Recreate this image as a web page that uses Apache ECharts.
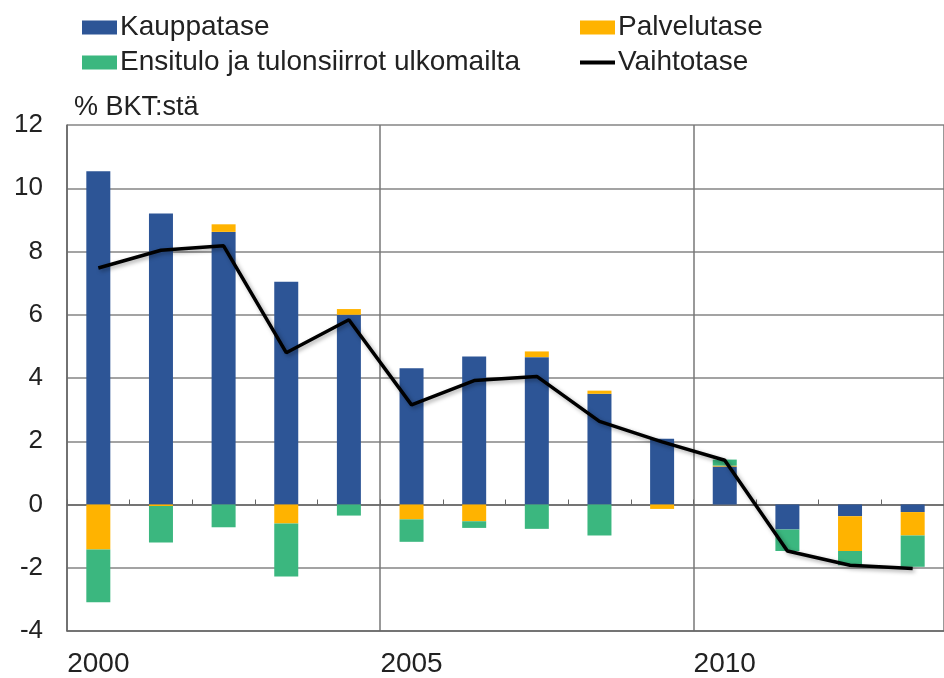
<!DOCTYPE html>
<html>
<head>
<meta charset="utf-8">
<script src="https://cdn.jsdelivr.net/npm/echarts@6/dist/echarts.min.js"></script>
<style>
html,body{margin:0;padding:0;background:#fff;}
#chart{width:944px;height:678px;}
</style>
</head>
<body>
<div id="chart"></div>
<script>
var years = ['2000','2001','2002','2003','2004','2005','2006','2007','2008','2009','2010','2011','2012','2013'];
var kauppatase = [10.54, 9.20, 8.62, 7.04, 6.00, 4.31, 4.68, 4.66, 3.50, 2.08, 1.20, -0.79, -0.37, -0.24];
var palvelutase = [-1.42, -0.05, 0.24, -0.60, 0.18, -0.47, -0.53, 0.18, 0.10, -0.14, 0.03, 0.00, -1.10, -0.74];
var ensitulo = [-1.67, -1.15, -0.72, -1.68, -0.35, -0.71, -0.21, -0.77, -0.98, 0.00, 0.19, -0.68, -0.45, -0.99];
var vaihtotase = [7.48, 8.04, 8.18, 4.80, 5.84, 3.15, 3.92, 4.05, 2.63, 1.98, 1.40, -1.47, -1.92, -2.02];
var yTicks = {min: -4, max: 12, interval: 2};

var FONT = '"Liberation Sans", Arial, sans-serif';
var chart = echarts.init(document.getElementById('chart'));
chart.setOption({
  animation: false,
  backgroundColor: '#fff',
  textStyle: {fontFamily: FONT},
  grid: {left: 67, top: 125, bottom: 46, right: -8, containLabel: false},
  legend: [{
    left: 77, top: 8, orient: 'vertical', itemWidth: 35, itemHeight: 14, itemGap: 6,
    textStyle: {fontSize: 28, lineHeight: 29, color: '#222', fontFamily: FONT, padding: [0,0,0,-2]},
    data: [{name: 'Kauppatase', icon: 'rect'}, {name: 'Ensitulo ja tulonsiirrot ulkomailta', icon: 'rect'}]
  }, {
    left: 575, top: 8, orient: 'vertical', itemWidth: 35, itemHeight: 14, itemGap: 6,
    textStyle: {fontSize: 28, lineHeight: 29, color: '#222', fontFamily: FONT, padding: [0,0,0,-2]},
    data: [{name: 'Palvelutase', icon: 'rect'}, {name: 'Vaihtotase', icon: 'path://M0,0h35v4h-35z'}]
  }],
  graphic: [{
    type: 'text', left: 74, top: 94,
    style: {text: '% BKT:stä', fontSize: 27, fill: '#222', fontFamily: FONT}
  }],
  xAxis: [{
    type: 'category', data: years, position: 'bottom',
    axisLine: {onZero: false, lineStyle: {color: '#666', width: 1.5}},
    axisTick: {show: false},
    axisLabel: {interval: 4, fontSize: 28, color: '#222', margin: 19, fontFamily: FONT},
    splitLine: {show: true, interval: 4, lineStyle: {color: '#777', width: 1.5}}
  }, {
    type: 'category', data: years, position: 'top',
    axisLine: {onZero: true, lineStyle: {color: '#666', width: 1.5}},
    axisTick: {show: true, inside: false, length: 5, interval: 0, lineStyle: {color: '#666'}},
    axisLabel: {show: false},
    splitLine: {show: false}
  }],
  yAxis: {
    type: 'value', min: yTicks.min, max: yTicks.max, interval: yTicks.interval,
    axisLine: {show: true, lineStyle: {color: '#666', width: 1.5}},
    axisTick: {show: false},
    axisLabel: {fontSize: 26, color: '#222', margin: 24, fontFamily: FONT},
    splitLine: {show: true, lineStyle: {color: '#858585', width: 1.5}}
  },
  series: [{
    name: 'Kauppatase', type: 'bar', stack: 'total', barWidth: 24,
    itemStyle: {color: '#2d5596'}, data: kauppatase
  }, {
    name: 'Palvelutase', type: 'bar', stack: 'total', barWidth: 24,
    itemStyle: {color: '#ffb300'}, data: palvelutase
  }, {
    name: 'Ensitulo ja tulonsiirrot ulkomailta', type: 'bar', stack: 'total', barWidth: 24,
    itemStyle: {color: '#3bb77f'}, data: ensitulo
  }, {
    name: 'Vaihtotase', type: 'line', showSymbol: false, symbol: 'none', z: 5,
    itemStyle: {color: '#000'},
    lineStyle: {color: '#000', width: 3.5, shadowColor: 'rgba(0,0,0,0.35)', shadowBlur: 4, shadowOffsetX: 2, shadowOffsetY: 2},
    data: vaihtotase
  }]
});
</script>
</body>
</html>
